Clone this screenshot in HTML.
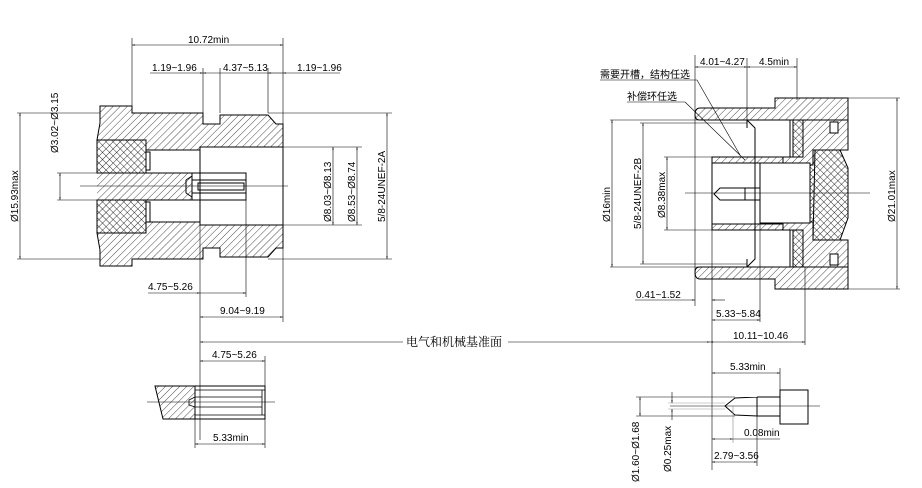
<!DOCTYPE html>
<html><head><meta charset="utf-8"><style>
html,body{margin:0;padding:0;background:#fff;}
svg{display:block}
text{font-family:"Liberation Sans","Noto Sans CJK SC",sans-serif;font-size:10px;fill:#000}
</style></head><body>
<svg width="922" height="488" viewBox="0 0 922 488" xmlns="http://www.w3.org/2000/svg">
<defs>
<pattern id="h" width="5" height="5" patternUnits="userSpaceOnUse" patternTransform="rotate(45)">
<line x1="0" y1="0" x2="0" y2="5" stroke="#000" stroke-width="0.7"/></pattern>
<pattern id="x" width="5" height="5" patternUnits="userSpaceOnUse" patternTransform="rotate(45)">
<line x1="0" y1="0" x2="0" y2="5" stroke="#000" stroke-width="0.8"/><line x1="0" y1="0" x2="5" y2="0" stroke="#000" stroke-width="0.8"/></pattern>
<marker id="a" viewBox="0 0 10 10" refX="10" refY="5" markerWidth="7" markerHeight="5" orient="auto-start-reverse"><path d="M0,3 L10,5 L0,7z" fill="#000"/></marker>
</defs>
<g stroke="#000" stroke-width="1" fill="none">
<!-- LEFT CONNECTOR -->
<path d="M100,106 L132,106 L132,113 L203,113 L203,124 L220,124 L220,115 L268,115 L276,124 L283,124 L283,147 L200,147 L200,150 L146,150 L146,140 L97,140 L100,123 Z" fill="url(#h)"/>
<path d="M100,266 L132,266 L132,259 L203,259 L203,248 L220,248 L220,257 L268,257 L276,248 L283,248 L283,225 L200,225 L200,222 L146,222 L146,233 L97,233 L100,250 Z" fill="url(#h)"/>
<rect x="97" y="140" width="49" height="33" fill="url(#x)"/>
<rect x="97" y="200" width="49" height="33" fill="url(#x)"/>
<rect x="146" y="152" width="4" height="18"/><rect x="146" y="202" width="4" height="20"/>
<path d="M97,173 L192,173 L192,200 L97,200" fill="url(#h)"/>
<rect x="192" y="173" width="54" height="27" fill="#fff"/>
<path d="M192,180 L246,180 M192,193 L246,193 M198,183 L244,183 L244,190 L198,190 Z M186,180 L192,176 M186,193 L192,197 M186,180 L186,193"/>
<line x1="200" y1="147" x2="200" y2="225"/>
<line x1="283" y1="147" x2="283" y2="225"/>
<g stroke-width="0.6">
<line x1="80" y1="186" x2="288" y2="186"/>
<line x1="132" y1="38" x2="132" y2="106"/><line x1="283" y1="38" x2="283" y2="322"/>
<line x1="203" y1="68" x2="203" y2="113"/><line x1="220" y1="68" x2="220" y2="113"/><line x1="268" y1="68" x2="268" y2="113"/>
<line x1="17" y1="113" x2="100" y2="113"/><line x1="17" y1="259" x2="100" y2="259"/>
<line x1="57" y1="173" x2="97" y2="173"/><line x1="57" y1="200" x2="97" y2="200"/>
<line x1="283" y1="147" x2="362" y2="147"/><line x1="283" y1="225" x2="362" y2="225"/>
<line x1="268" y1="113" x2="392" y2="113"/><line x1="268" y1="259" x2="392" y2="259"/>
<line x1="200" y1="225" x2="200" y2="440"/><line x1="246" y1="186" x2="246" y2="297"/>
</g>
<g stroke-width="0.6" marker-start="url(#a)" marker-end="url(#a)">
<line x1="132" y1="45" x2="283" y2="45"/>
<line x1="20" y1="113" x2="20" y2="259"/>
<line x1="60" y1="173" x2="60" y2="200"/>
<line x1="333" y1="147" x2="333" y2="225"/>
<line x1="357" y1="147" x2="357" y2="225"/>
<line x1="387" y1="113" x2="387" y2="259"/>
<line x1="200" y1="317" x2="283" y2="317"/>
</g>
<g stroke-width="0.6">
<line x1="150" y1="73" x2="203" y2="73" marker-end="url(#a)"/><line x1="220" y1="73" x2="203" y2="73" marker-end="url(#a)"/>
<line x1="220" y1="73" x2="268" y2="73"/><line x1="340" y1="73" x2="283" y2="73" marker-end="url(#a)"/><line x1="268" y1="73" x2="283" y2="73" marker-start="url(#a)"/>
<line x1="148" y1="293" x2="200" y2="293" marker-end="url(#a)"/><line x1="200" y1="293" x2="246" y2="293" marker-end="url(#a)"/>
</g>
<!-- reference line -->
<line x1="200" y1="342" x2="403" y2="342" stroke-width="0.6" marker-start="url(#a)"/>
<line x1="508" y1="342" x2="710" y2="342" stroke-width="0.6" marker-end="url(#a)"/>
<!-- BOTTOM LEFT -->
<path d="M155,386 L195,386 L195,419 L163,419 Z" fill="url(#h)"/>
<rect x="195" y="386" width="70" height="33"/>
<path d="M195,390 L265,390 M195,415 L265,415 M195,397 L262,397 L262,407 L195,407 M195,397 L189,400 L189,405 L195,407 M262,390 L262,415" stroke-width="0.8"/>
<line x1="147" y1="402" x2="275" y2="402" stroke-width="0.6"/>
<g stroke-width="0.6"><line x1="265" y1="356" x2="265" y2="448"/><line x1="195" y1="419" x2="195" y2="448"/>
<line x1="200" y1="361" x2="265" y2="361" marker-start="url(#a)" marker-end="url(#a)"/>
<line x1="195" y1="444" x2="265" y2="444" marker-start="url(#a)" marker-end="url(#a)"/></g>
<!-- RIGHT CONNECTOR -->
<path d="M700,108 L775,108 L775,98 L848,98 L848,120 L700,120 Q695,120 695,115 Q695,108 700,108 Z" fill="url(#h)"/>
<path d="M700,279 L775,279 L775,289 L848,289 L848,267 L700,267 Q695,267 695,272 Q695,279 700,279 Z" fill="url(#h)"/>
<path d="M803,120 L848,120 L848,150 L815,150 L813,240 L848,240 L848,267 L803,267 L803,230 L783,230 L783,157 L803,157 Z" fill="url(#h)"/>
<rect x="793" y="120" width="10" height="37" fill="url(#x)"/><rect x="793" y="230" width="10" height="37" fill="url(#x)"/>
<path d="M813,150 L840,150 L848,168 L848,218 L840,240 L813,240 L813,222 L806,222 L806,165 L813,165 Z" fill="url(#x)"/>
<path d="M712,157 L783,157 L783,163 L712,163 Z M712,224 L783,224 L783,230 L712,230 Z" fill="url(#h)"/>
<rect x="712" y="157" width="43" height="73"/>
<rect x="760" y="163" width="50" height="60" fill="#fff"/>
<path d="M760,163 L760,223 M755,163 L755,223 M720,188 L745,188 L745,200 L720,200 L714,194 Z M745,188 L760,188 M745,200 L760,200"/>
<path d="M830,122 L838,122 L838,133 L830,133 Z M830,254 L838,254 L838,265 L830,265 Z" fill="#fff"/>
<path d="M747,120 L755,128 L755,157 M747,267 L755,259 L755,230 M790,120 L790,157 M790,230 L790,267 M747,120 L747,128 M747,267 L747,259"/>
<g stroke-width="0.6">
<line x1="685" y1="193" x2="870" y2="193"/>
<line x1="695" y1="55" x2="695" y2="306"/><line x1="747" y1="58" x2="747" y2="120"/><line x1="797" y1="58" x2="797" y2="100"/>
<line x1="610" y1="120" x2="700" y2="120"/><line x1="610" y1="267" x2="700" y2="267"/>
<line x1="640" y1="123" x2="747" y2="123"/><line x1="640" y1="264" x2="747" y2="264"/>
<line x1="664" y1="157" x2="712" y2="157"/><line x1="664" y1="230" x2="712" y2="230"/>
<line x1="848" y1="98" x2="900" y2="98"/><line x1="848" y1="289" x2="900" y2="289"/>
<line x1="712" y1="230" x2="712" y2="470"/><line x1="760" y1="223" x2="760" y2="322"/><line x1="805" y1="267" x2="805" y2="345"/>
<line x1="600" y1="80" x2="697" y2="80"/><line x1="697" y1="80" x2="740" y2="155"/>
<line x1="627" y1="102" x2="685" y2="102"/><line x1="685" y1="102" x2="745" y2="160"/>
</g>
<g stroke-width="0.6" marker-start="url(#a)" marker-end="url(#a)">
<line x1="695" y1="67" x2="747" y2="67"/><line x1="747" y1="67" x2="797" y2="67"/>
<line x1="612" y1="120" x2="612" y2="267"/><line x1="643" y1="123" x2="643" y2="264"/>
<line x1="667" y1="157" x2="667" y2="230"/><line x1="897" y1="98" x2="897" y2="289"/>
<line x1="712" y1="320" x2="760" y2="320"/><line x1="710" y1="342" x2="805" y2="342"/>
</g>
<line x1="635" y1="300" x2="695" y2="300" stroke-width="0.6" marker-end="url(#a)"/>
<line x1="725" y1="300" x2="712" y2="300" stroke-width="0.6" marker-end="url(#a)"/>
<!-- BOTTOM RIGHT -->
<path d="M725,406 L735,398 L757,397 L757,416 L735,415 Z M757,397 L780,397 L780,416 L757,416"/>
<rect x="780" y="390" width="28" height="34" fill="#fff"/>
<g stroke-width="0.6">
<line x1="670" y1="406" x2="820" y2="406"/>
<line x1="636" y1="397" x2="735" y2="397"/><line x1="636" y1="416" x2="735" y2="416"/>
<line x1="668" y1="403" x2="725" y2="403" stroke="#999"/><line x1="668" y1="409" x2="725" y2="409" stroke="#999"/>
<line x1="780" y1="368" x2="780" y2="390"/><line x1="757" y1="416" x2="757" y2="466"/><line x1="733" y1="406" x2="733" y2="443" stroke="#888"/>
<line x1="640" y1="397" x2="640" y2="416" marker-start="url(#a)" marker-end="url(#a)"/>
<line x1="672" y1="392" x2="672" y2="403" marker-end="url(#a)"/><line x1="672" y1="420" x2="672" y2="409" marker-end="url(#a)"/>
<line x1="712" y1="373" x2="780" y2="373" marker-start="url(#a)" marker-end="url(#a)"/>
<line x1="712" y1="439" x2="733" y2="439" marker-start="url(#a)" marker-end="url(#a)"/><line x1="733" y1="439" x2="780" y2="439"/>
<line x1="712" y1="462" x2="757" y2="462" marker-start="url(#a)" marker-end="url(#a)"/>
</g>
</g>
<!-- TEXT -->
<text x="188" y="43">10.72min</text>
<text x="152" y="71">1.19~1.96</text>
<text x="223" y="71">4.37~5.13</text>
<text x="297" y="71">1.19~1.96</text>
<text x="148" y="290">4.75~5.26</text>
<text x="220" y="314">9.04~9.19</text>
<text transform="translate(18,222) rotate(-90)">Ø15.93max</text>
<text transform="translate(58,153) rotate(-90)">Ø3.02~Ø3.15</text>
<text transform="translate(331,222) rotate(-90)">Ø8.03~Ø8.13</text>
<text transform="translate(355,222) rotate(-90)">Ø8.53~Ø8.74</text>
<text transform="translate(385,222) rotate(-90)">5/8-24UNEF-2A</text>
<text x="406" y="346" style="font-family:'Noto Serif CJK SC','Noto Sans CJK SC',serif;font-size:12px">电气和机械基准面</text>
<text x="212" y="358">4.75~5.26</text>
<text x="213" y="441">5.33min</text>
<text x="700" y="65">4.01~4.27</text>
<text x="759" y="65">4.5min</text>
<text x="600" y="78">需要开槽，结构任选</text>
<text x="627" y="100">补偿环任选</text>
<text transform="translate(610,222) rotate(-90)">Ø16min</text>
<text transform="translate(641,229) rotate(-90)">5/8-24UNEF-2B</text>
<text transform="translate(665,218) rotate(-90)">Ø8.38max</text>
<text transform="translate(895,222) rotate(-90)">Ø21.01max</text>
<text x="636" y="298">0.41~1.52</text>
<text x="716" y="317">5.33~5.84</text>
<text x="733" y="339">10.11~10.46</text>
<text x="730" y="370">5.33min</text>
<text x="744" y="436">0.08min</text>
<text x="714" y="459">2.79~3.56</text>
<text transform="translate(639,482) rotate(-90)">Ø1.60~Ø1.68</text>
<text transform="translate(671,472) rotate(-90)">Ø0.25max</text>
</svg>
</body></html>
